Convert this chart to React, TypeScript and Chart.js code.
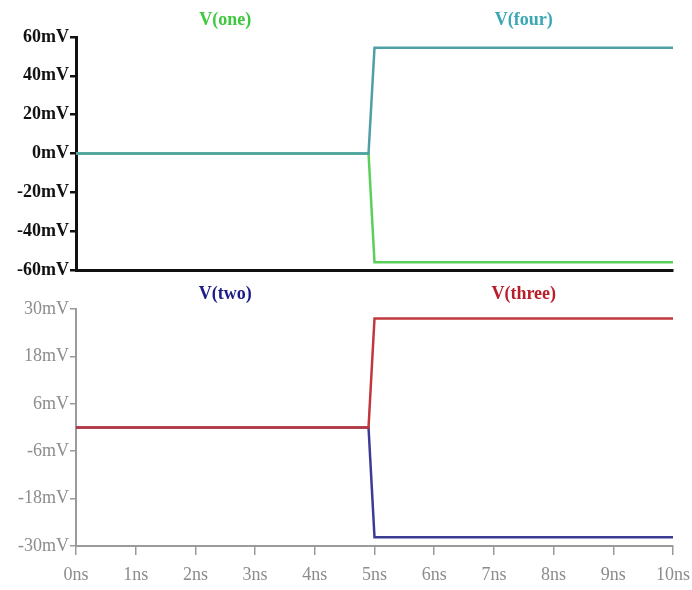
import React, { useEffect, useRef } from "react";
import { Chart, registerables } from "chart.js";

Chart.register(...registerables);

// time axis (ns)
const timeNs = [0, 4.9, 5, 10];
// top panel traces (mV)
const vOne = [0, 0, -56, -56];
const vFour = [0, 0, 54.5, 54.5];
// bottom panel traces (mV)
const vTwo = [0, 0, -27.8, -27.8];
const vThree = [0, 0, 27.6, 27.6];
// tick labels
const topTicks = [-60, -40, -20, 0, 20, 40, 60];
const bottomTicks = [-30, -18, -6, 6, 18, 30];
const xTicks = [0, 1, 2, 3, 4, 5, 6, 7, 8, 9, 10];

const SERIF = '"Liberation Serif", "Times New Roman", serif';

const traceLabels = {
  id: "traceLabels",
  afterDraw(chart: any, _args: any, opts: any) {
    const { ctx, chartArea } = chart;
    ctx.save();
    ctx.font = `bold 18px ${SERIF}`;
    ctx.textAlign = "center";
    ctx.textBaseline = "middle";
    chart.data.datasets.forEach((ds: any) => {
      ctx.fillStyle = ds.labelColor;
      const x = chartArea.left + ds.labelFrac * (chartArea.right - chartArea.left);
      ctx.fillText(ds.label, x, chartArea.top - (opts.offset ?? 16));
    });
    ctx.restore();
  },
};

function toPoints(vals: number[]) {
  return vals.map((v, i) => ({ x: timeNs[i], y: v }));
}

function makeTicks(arr: number[]) {
  return (scale: any) => {
    scale.ticks = arr.map((v) => ({ value: v }));
  };
}

function PanelChart(props: { kind: "top" | "bottom" }) {
  const ref = useRef<HTMLCanvasElement | null>(null);
  useEffect(() => {
    const isTop = props.kind === "top";
    const axisColor = isTop ? "#111111" : "#9a9a9a";
    const datasets = isTop
      ? [
          { label: "V(four)", data: toPoints(vFour), borderColor: "#4e9fa6", labelColor: "#3aa7b4", labelFrac: 0.75 },
          { label: "V(one)", data: toPoints(vOne), borderColor: "#5ad05a", labelColor: "#3ec83e", labelFrac: 0.25 },
        ]
      : [
          { label: "V(three)", data: toPoints(vThree), borderColor: "#c0383c", labelColor: "#b81e2a", labelFrac: 0.75 },
          { label: "V(two)", data: toPoints(vTwo), borderColor: "#3c3c96", labelColor: "#1c1c8a", labelFrac: 0.25 },
        ];
    const chart = new Chart(ref.current as HTMLCanvasElement, {
      type: "line",
      data: {
        datasets: datasets.map((d) => ({
          ...d,
          borderWidth: 2.5,
          pointRadius: 0,
          tension: 0,
          fill: false,
        })),
      } as any,
      options: {
        animation: false,
        responsive: true,
        maintainAspectRatio: false,
        layout: {
          padding: { left: 0, right: 19, top: isTop ? 37 : 25, bottom: 0 },
        },
        plugins: {
          legend: { display: false },
          tooltip: { enabled: false },
          traceLabels: { offset: isTop ? 17 : 15 },
        } as any,
        scales: {
          x: {
            type: "linear",
            min: 0,
            max: 10,
            afterBuildTicks: makeTicks(xTicks),
            afterFit: (s: any) => {
              s.height = isTop ? 14 : 44;
              s.paddingLeft = 0;
              s.paddingRight = 0;
            },
            grid: { drawOnChartArea: false, drawTicks: !isTop, tickLength: 9, color: axisColor, lineWidth: 1.5 },
            border: { display: true, color: axisColor, width: isTop ? 3 : 2 },
            ticks: {
              display: !isTop,
              color: "#8c8c8c",
              font: { family: SERIF, size: 18 },
              padding: 9,
              maxRotation: 0,
              callback: (v: any) => `${v}ns`,
            },
          },
          y: {
            type: "linear",
            min: isTop ? -60 : -30,
            max: isTop ? 60 : 30,
            afterBuildTicks: makeTicks(isTop ? topTicks : bottomTicks),
            afterFit: (s: any) => {
              s.width = 76;
              s.paddingTop = 0;
              s.paddingBottom = 0;
            },
            grid: { drawOnChartArea: false, drawTicks: true, tickLength: 6, color: axisColor, lineWidth: isTop ? 2.5 : 1.5 },
            border: { display: true, color: axisColor, width: isTop ? 3 : 2 },
            ticks: {
              color: isTop ? "#111111" : "#8c8c8c",
              font: { family: SERIF, size: 18, weight: isTop ? "bold" : "normal" },
              padding: 1,
              callback: (v: any) => `${v}mV`,
            },
          },
        },
      } as any,
      plugins: [traceLabels as any],
    });
    return () => chart.destroy();
  }, [props.kind]);
  return <canvas ref={ref} />;
}

export default function App() {
  return (
    <div style={{ position: "absolute", left: 0, top: 0, width: 692, height: 590, background: "#ffffff" }}>
      <div style={{ position: "absolute", left: 0, top: 0, width: 692, height: 284 }}>
        <PanelChart kind="top" />
      </div>
      <div style={{ position: "absolute", left: 0, top: 284, width: 692, height: 306 }}>
        <PanelChart kind="bottom" />
      </div>
    </div>
  );
}
